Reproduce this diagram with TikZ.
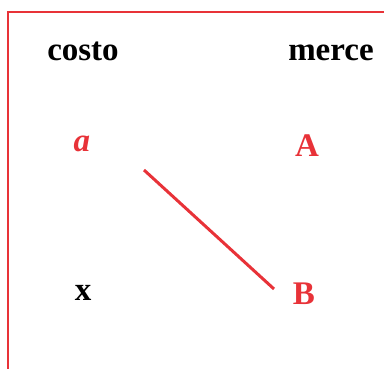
\documentclass[tikz,border=0pt]{standalone}
\usepackage{fontspec}
\setmainfont{Liberation Serif}
\definecolor{myred}{RGB}{232,50,56}
\begin{document}
\begin{tikzpicture}[x=1pt,y=-1pt,
  lbl/.style={anchor=base,inner sep=0pt,font=\fontsize{33}{36}\selectfont\bfseries},
  redlbl/.style={lbl,text=myred}]
\useasboundingbox (0,0) rectangle (384,369);
\draw[myred,line width=2pt] (8,369) -- (8,12) -- (384,12);
\node[lbl] (costo) at (83,61) {costo};
\node[lbl] (merce) at (331,61) {merce};
\node[redlbl] (a) at (82,152) {\itshape a};
\node[redlbl] (A) at (307,157) {A};
\node[lbl] (x) at (83,301) {x};
\node[redlbl] (B) at (304,305) {B};
\coordinate (s) at (144,170);
\coordinate (e) at (274,289);
\draw[myred,line width=3pt] (s) -- (e);
\end{tikzpicture}
\end{document}
